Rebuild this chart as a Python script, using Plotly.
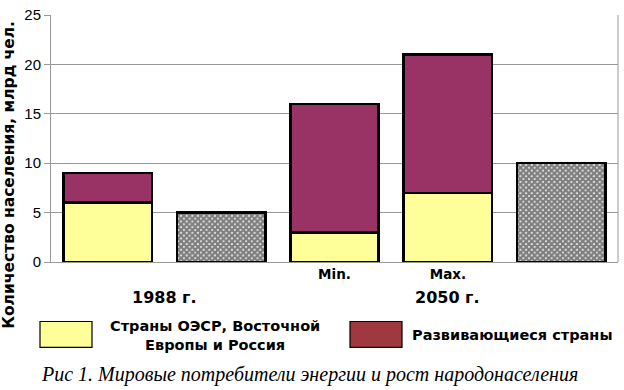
import plotly.graph_objects as go

categories = [0, 1, 2, 3, 4]
tick_labels = ["", "", "Min.", "Max.", ""]
oecd = [6, None, 3, 7, None]
developing = [3, None, 13, 14, None]
total_hatched = [None, 5, None, None, 10]
y_ticks = [0, 5, 10, 15, 20, 25]

W, H = 624, 390
L, R, T, B = 51, 618, 13, 262
SANS = "DejaVu Sans, Arial, sans-serif"

def px(x):
    return (x - L) / (R - L)

def py(y):
    return (B - y) / (B - T)

fig = go.Figure()
line = dict(color="black", width=2.5)
fig.add_bar(x=categories, y=oecd, marker=dict(color="#FFFF99", line=line), showlegend=False)
fig.add_bar(x=categories, y=developing, marker=dict(color="#993366", line=line), showlegend=False)
fig.add_bar(x=categories, y=total_hatched,
            marker=dict(color="white", line=line,
                        pattern=dict(shape="x", fgcolor="black", bgcolor="white", size=4, solidity=0.85)),
            showlegend=False)

fig.update_layout(
    width=W, height=H, barmode="stack", bargap=0.22,
    margin=dict(l=L, r=W - R, t=T, b=H - B),
    plot_bgcolor="white", paper_bgcolor="white",
    font=dict(family=SANS, color="black", size=14),
    xaxis=dict(range=[-0.5, 4.5], tickmode="array", tickvals=categories, ticktext=tick_labels,
               showgrid=False, showline=True, linecolor="#999999", ticks="",
               tickfont=dict(size=13.5, family=SANS, weight="bold")),
    yaxis=dict(range=[0, 25], tickvals=y_ticks, showgrid=True, gridcolor="#999999", gridwidth=1,
               showline=True, linecolor="#999999", ticks="outside", tickcolor="#999999", ticklen=6,
               tickfont=dict(size=15, family="Liberation Sans, Arial, sans-serif"), zeroline=False),
)

# right border of plot area
fig.add_shape(type="line", xref="paper", yref="paper", x0=1, x1=1, y0=0, y1=1,
              line=dict(color="#999999", width=1))

def note(text, x, y, size, xref="paper", **kw):
    fig.add_annotation(text=text, xref=xref, yref="paper", x=x, y=y, showarrow=False,
                       xanchor="center", yanchor="middle", **kw,
                       font=dict(size=size, weight="bold", family=SANS))

note("Количество населения, млрд чел.", px(9), py(174), 15.5, textangle=-90)
note("1988 г.", 0.5, py(298), 16, xref="x")
note("2050 г.", 3, py(298), 16, xref="x")

# legend
fig.add_shape(type="rect", xref="paper", yref="paper", x0=px(40), x1=px(92), y0=py(322), y1=py(348),
              fillcolor="#FFFF99", line=dict(color="black", width=1.2))
fig.add_shape(type="rect", xref="paper", yref="paper", x0=px(350), x1=px(402), y0=py(322), y1=py(348),
              fillcolor="#A0393F", line=dict(color="black", width=1.2))
note("Страны ОЭСР, Восточной<br>Европы и Россия", px(215), py(336), 14.5, align="center")
note("Развивающиеся страны", px(512), py(336), 14.5)

fig.add_annotation(text="<i>Рис 1. Мировые потребители энергии и рост народонаселения</i>",
                   xref="paper", yref="paper", x=px(309), y=py(375), showarrow=False,
                   xanchor="center", yanchor="middle",
                   font=dict(size=20, family="Liberation Serif, Times New Roman, serif"))

fig.write_html("out.html", post_script="document.body.style.margin='0';",
               config={"displayModeBar": False})
